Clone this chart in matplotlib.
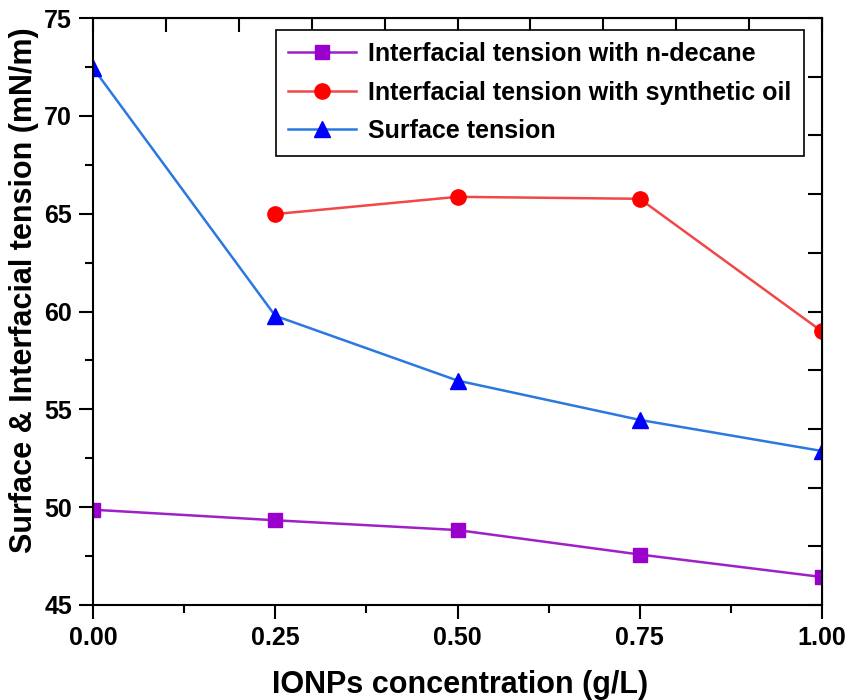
"""Surface and interfacial tension vs IONPs concentration."""

import matplotlib
matplotlib.use('Agg')
import matplotlib.pyplot as plt
from matplotlib.ticker import MultipleLocator

plt.rcParams['font.family'] = ['Liberation Sans', 'DejaVu Sans']
plt.rcParams['font.weight'] = 'bold'

# Data
conc = [0.0, 0.25, 0.50, 0.75, 1.00]
ift_decane = [49.87, 49.33, 48.83, 47.58, 46.43]
conc_oil = [0.25, 0.50, 0.75, 1.00]
ift_oil = [64.98, 65.86, 65.76, 58.98]
surface_tension = [72.45, 59.78, 56.47, 54.46, 52.87]

fig = plt.figure(figsize=(8.49, 7.0), dpi=100)
ax = fig.add_axes([93 / 849, 1 - 605 / 700, 729 / 849, 587 / 700])

ax.plot(conc, ift_decane, color='#A020C8', lw=1.8, marker='s', ms=10,
        mfc='#9900CC', mec='#9900CC', label='Interfacial tension with n-decane')
ax.plot(conc_oil, ift_oil, color='#F04848', lw=1.8, marker='o', ms=11,
        mfc='#FF0000', mec='#FF0000', label='Interfacial tension with synthetic oil')
ax.plot(conc, surface_tension, color='#2A78E0', lw=1.8, marker='^', ms=11,
        mfc='#0000FF', mec='#0000FF', label='Surface tension')

ax.set_xlim(0, 1)
ax.set_ylim(45, 75)
ax.xaxis.set_major_locator(MultipleLocator(0.25))
ax.xaxis.set_minor_locator(MultipleLocator(0.125))
ax.yaxis.set_major_locator(MultipleLocator(5))
ax.yaxis.set_minor_locator(MultipleLocator(2.5))
ax.xaxis.set_major_formatter(plt.FormatStrFormatter('%.2f'))

ax.tick_params(which='major', direction='out', length=10, width=1.5,
               labelsize=18, pad=5)
ax.tick_params(which='minor', direction='out', length=6, width=1.5)
for sp in ax.spines.values():
    sp.set_linewidth(1.5)

# Top and right axes with inward ticks (Origin style)
top = ax.secondary_xaxis('top')
top.xaxis.set_major_locator(MultipleLocator(0.1))
top.tick_params(direction='in', length=10, width=1.5, labeltop=False)
right = ax.secondary_yaxis('right')
right.yaxis.set_major_locator(MultipleLocator(3))
right.tick_params(direction='in', length=10, width=1.5, labelright=False)

ax.set_xlabel('IONPs concentration (g/L)', fontsize=22, fontweight='bold')
ax.set_ylabel('Surface & Interfacial tension (mN/m)', fontsize=22, fontweight='bold')
ax.xaxis.set_label_coords(0.503, -0.11)
ax.yaxis.set_label_coords(-0.074, 0.537)

leg = ax.legend(loc='upper right', bbox_to_anchor=(0.9755, 0.98), fontsize=18,
                frameon=True, fancybox=False, edgecolor='black', framealpha=1,
                handlelength=2.7, borderpad=0.5, labelspacing=0.58, handletextpad=0.5,
                borderaxespad=0)
leg.get_frame().set_linewidth(1.2)

fig.savefig('out.png', dpi=100)
